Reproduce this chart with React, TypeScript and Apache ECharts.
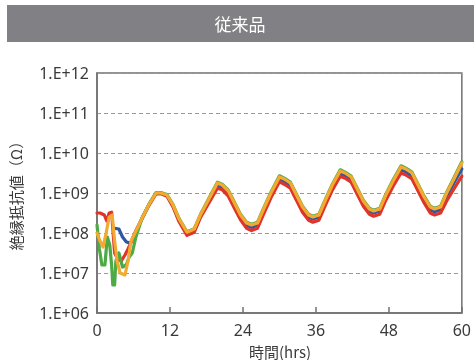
import React, { useEffect, useRef } from "react";
import * as echarts from "echarts";

// Shared time points (hours) after the curves converge
const hoursLate = [7.5, 8.5, 9.7, 10.5, 11.5, 12.5, 13.5, 14.8, 16, 17, 18.4, 19.8, 20.6, 21.6, 22.6, 23.6, 24.6, 25.4, 26.4, 27.4, 28.6, 30, 30.8, 31.8, 32.8, 33.8, 34.8, 35.5, 36.5, 37.5, 38.7, 40, 40.8, 41.8, 42.8, 43.8, 44.8, 45.5, 46.5, 47.5, 48.7, 50, 50.8, 51.8, 52.8, 53.8, 54.8, 55.5, 56.5, 57.5, 58.7, 60];

// log10 of insulation resistance (Ω)
const orangeLate = [8.4, 8.7, 9.0, 9.0, 8.95, 8.7, 8.35, 8.02, 8.1, 8.45, 8.85, 9.25, 9.2, 9.05, 8.75, 8.45, 8.25, 8.2, 8.25, 8.6, 9.0, 9.4, 9.35, 9.25, 8.95, 8.65, 8.45, 8.4, 8.45, 8.8, 9.2, 9.55, 9.5, 9.4, 9.1, 8.8, 8.6, 8.55, 8.6, 8.95, 9.3, 9.65, 9.6, 9.5, 9.2, 8.9, 8.65, 8.6, 8.65, 9.0, 9.35, 9.75];
const redLate = [8.38, 8.68, 8.98, 8.98, 8.92, 8.65, 8.28, 7.94, 8.02, 8.38, 8.75, 9.12, 9.08, 8.92, 8.62, 8.33, 8.12, 8.06, 8.12, 8.47, 8.88, 9.28, 9.22, 9.12, 8.82, 8.52, 8.32, 8.27, 8.32, 8.67, 9.07, 9.42, 9.37, 9.27, 8.97, 8.67, 8.47, 8.42, 8.47, 8.82, 9.17, 9.5, 9.45, 9.35, 9.05, 8.75, 8.5, 8.45, 8.5, 8.8, 9.1, 9.42];
const greenLate = [8.41, 8.71, 9.01, 9.01, 8.96, 8.71, 8.36, 8.03, 8.11, 8.46, 8.87, 9.27, 9.22, 9.07, 8.77, 8.47, 8.27, 8.22, 8.27, 8.62, 9.02, 9.43, 9.37, 9.27, 8.97, 8.67, 8.47, 8.42, 8.47, 8.82, 9.22, 9.58, 9.52, 9.42, 9.12, 8.82, 8.62, 8.57, 8.62, 8.97, 9.33, 9.68, 9.62, 9.52, 9.22, 8.92, 8.67, 8.62, 8.67, 9.02, 9.38, 9.78];
const blueLate = [8.4, 8.7, 9.0, 9.0, 8.94, 8.68, 8.32, 7.98, 8.06, 8.42, 8.8, 9.18, 9.15, 9.0, 8.7, 8.4, 8.2, 8.14, 8.2, 8.54, 8.95, 9.34, 9.3, 9.18, 8.9, 8.6, 8.4, 8.35, 8.4, 8.75, 9.14, 9.48, 9.44, 9.34, 9.04, 8.74, 8.55, 8.5, 8.55, 8.9, 9.25, 9.58, 9.53, 9.43, 9.13, 8.83, 8.58, 8.53, 8.58, 8.92, 9.25, 9.6];

// Early, noisy part of each curve
const redEarlyHours = [0, 0.5, 1.2, 1.6, 2.0, 2.4, 2.9, 3.4, 4.0, 4.6, 5.1, 5.7, 6.4];
const redEarly = [8.5, 8.5, 8.45, 8.3, 8.5, 8.52, 7.5, 7.35, 7.3, 7.45, 7.6, 7.8, 8.05];
const blueEarlyHours = [2.7, 3.6, 4.2, 4.8, 5.5, 6.4];
const blueEarly = [8.12, 8.1, 7.9, 7.78, 7.74, 8.05];
const greenEarlyHours = [0, 0.4, 0.8, 1.3, 1.7, 2.1, 2.4, 2.6, 2.9, 3.1, 3.6, 4.2, 4.8, 5.3, 5.8, 6.4];
const greenEarly = [8.2, 7.6, 7.2, 7.2, 7.9, 7.7, 7.2, 6.7, 6.7, 7.3, 7.5, 7.15, 7.2, 7.4, 7.5, 7.9];
const orangeEarlyHours = [0, 0.5, 1.0, 1.5, 2.0, 2.5, 2.9, 3.3, 3.8, 4.6, 5.1, 5.6, 6.4];
const orangeEarly = [8.0, 7.8, 7.65, 8.0, 8.4, 8.45, 7.8, 7.3, 7.0, 6.95, 7.3, 7.8, 8.05];

const xTicks = [0, 12, 24, 36, 48, 60];

const build = (eh: number[], ev: number[], lv: number[]) =>
  eh.map((h, i) => [h, Math.pow(10, ev[i])]).concat(hoursLate.map((h, i) => [h, Math.pow(10, lv[i])]));

export default function App() {
  const ref = useRef<HTMLDivElement>(null);
  useEffect(() => {
    const chart = echarts.init(ref.current!, null, { renderer: "svg" });
    const labelFont = "'Noto Sans', sans-serif";
    const line = (name: string, color: string, data: number[][]) => ({
      name,
      type: "line",
      data,
      showSymbol: false,
      symbol: "none",
      lineStyle: { color, width: 3.2, join: "round", cap: "round" },
      itemStyle: { color },
    });
    chart.setOption({
      animation: false,
      grid: {
        left: 97,
        top: 73,
        right: 10,
        bottom: 47,
        show: true,
        borderColor: "#707070",
        borderWidth: 1.5,
        containLabel: false,
      },
      xAxis: {
        type: "value",
        min: xTicks[0],
        max: xTicks[xTicks.length - 1],
        interval: 12,
        axisLine: { show: true, lineStyle: { color: "#707070", width: 1.5 } },
        axisTick: { show: true, inside: true, length: 6, lineStyle: { color: "#707070", width: 1.5 } },
        axisLabel: { color: "#3a3a3a", fontSize: 16, fontFamily: labelFont, margin: 9 },
        splitLine: { show: false },
      },
      yAxis: {
        type: "log",
        logBase: 10,
        min: 1e6,
        max: 1e12,
        axisLine: { show: true, lineStyle: { color: "#707070", width: 1.5 } },
        axisTick: { show: false },
        axisLabel: {
          color: "#3a3a3a",
          fontSize: 16,
          fontFamily: labelFont,
          margin: 8,
          formatter: (v: number) => "1.E+" + String(Math.round(Math.log10(v))).padStart(2, "0"),
        },
        splitLine: { show: true, lineStyle: { color: "#999", width: 1, type: [4, 3] } },
      },
      graphic: [
        { type: "rect", shape: { x: 7, y: 5, width: 467, height: 37 }, style: { fill: "#818185" } },
        {
          type: "text",
          x: 240,
          y: 23,
          style: {
            text: "従来品",
            fill: "#ffffff",
            fontSize: 17,
            fontFamily: "'Noto Sans CJK JP', sans-serif",
            align: "center",
            verticalAlign: "middle",
          },
        },
        {
          type: "text",
          x: 15,
          y: 192,
          rotation: Math.PI / 2,
          style: {
            text: "絶縁抵抗値（Ω）",
            fill: "#3a3a3a",
            fontSize: 15,
            fontFamily: "'Noto Sans CJK JP', sans-serif",
            align: "center",
            verticalAlign: "middle",
          },
        },
        {
          type: "text",
          x: 280,
          y: 351,
          style: {
            text: "時間(hrs)",
            fill: "#3a3a3a",
            fontSize: 15,
            fontFamily: "'Noto Sans CJK JP', sans-serif",
            align: "center",
            verticalAlign: "middle",
          },
        },
      ],
      series: [
        line("blue", "#2f57a3", build(blueEarlyHours, blueEarly, blueLate)),
        line("red", "#e0342a", build(redEarlyHours, redEarly, redLate)),
        line("green", "#4daa45", build(greenEarlyHours, greenEarly, greenLate)),
        line("orange", "#f3aa30", build(orangeEarlyHours, orangeEarly, orangeLate)),
      ],
    });
    return () => chart.dispose();
  }, []);
  return <div ref={ref} style={{ position: "fixed", left: 0, top: 0, width: 474, height: 360 }} />;
}
